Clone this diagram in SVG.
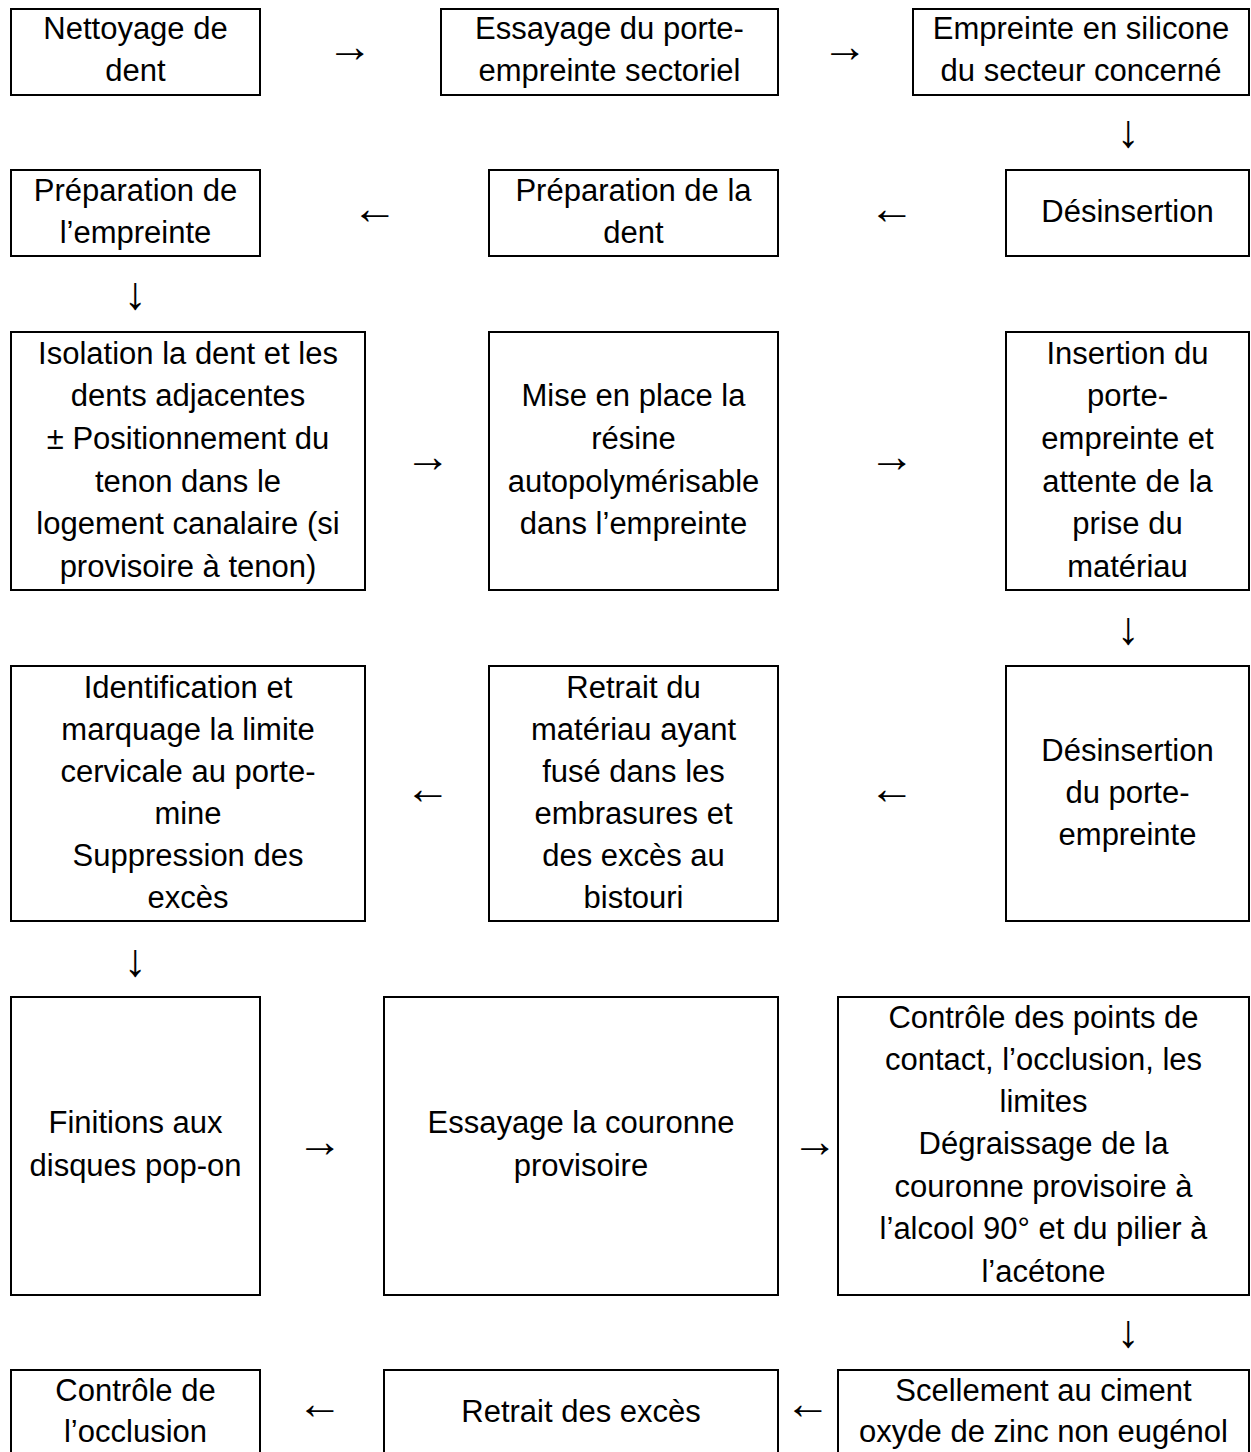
<svg xmlns="http://www.w3.org/2000/svg" width="1251" height="1452" viewBox="0 0 1251 1452">
<style>
rect.b{fill:#fff;stroke:#000;stroke-width:2}
text{font-family:"Liberation Sans",Arial,sans-serif;font-size:31px;fill:#000;text-anchor:middle}
text.a{font-size:46px}
</style>
<rect width="1251" height="1452" fill="#fff"/>
<g id="n1"><rect class="b" x="11" y="9" width="249" height="86"/><text x="135.5" y="39">Nettoyage de</text><text x="135.5" y="81">dent</text></g>
<g id="n2"><rect class="b" x="441" y="9" width="337" height="86"/><text x="609.5" y="39">Essayage du porte-</text><text x="609.5" y="81">empreinte sectoriel</text></g>
<g id="n3"><rect class="b" x="913" y="9" width="336" height="86"/><text x="1081" y="39">Empreinte en silicone</text><text x="1081" y="81">du secteur concerné</text></g>
<g id="n4"><rect class="b" x="1006" y="170" width="243" height="86"/><text x="1127.5" y="222">Désinsertion</text></g>
<g id="n5"><rect class="b" x="489" y="170" width="289" height="86"/><text x="633.5" y="201">Préparation de la</text><text x="633.5" y="243">dent</text></g>
<g id="n6"><rect class="b" x="11" y="170" width="249" height="86"/><text x="135.5" y="201">Préparation de</text><text x="135.5" y="243">l’empreinte</text></g>
<g id="n7"><rect class="b" x="11" y="332" width="354" height="258"/><text x="188" y="364">Isolation la dent et les</text><text x="188" y="406">dents adjacentes</text><text x="188" y="449">± Positionnement du</text><text x="188" y="492">tenon dans le</text><text x="188" y="534">logement canalaire (si</text><text x="188" y="577">provisoire à tenon)</text></g>
<g id="n8"><rect class="b" x="489" y="332" width="289" height="258"/><text x="633.5" y="406">Mise en place la</text><text x="633.5" y="449">résine</text><text x="633.5" y="492">autopolymérisable</text><text x="633.5" y="534">dans l’empreinte</text></g>
<g id="n9"><rect class="b" x="1006" y="332" width="243" height="258"/><text x="1127.5" y="364">Insertion du</text><text x="1127.5" y="406">porte-</text><text x="1127.5" y="449">empreinte et</text><text x="1127.5" y="492">attente de la</text><text x="1127.5" y="534">prise du</text><text x="1127.5" y="577">matériau</text></g>
<g id="n10"><rect class="b" x="1006" y="666" width="243" height="255"/><text x="1127.5" y="761">Désinsertion</text><text x="1127.5" y="803">du porte-</text><text x="1127.5" y="845">empreinte</text></g>
<g id="n11"><rect class="b" x="489" y="666" width="289" height="255"/><text x="633.5" y="698">Retrait du</text><text x="633.5" y="740">matériau ayant</text><text x="633.5" y="782">fusé dans les</text><text x="633.5" y="824">embrasures et</text><text x="633.5" y="866">des excès au</text><text x="633.5" y="908">bistouri</text></g>
<g id="n12"><rect class="b" x="11" y="666" width="354" height="255"/><text x="188" y="698">Identification et</text><text x="188" y="740">marquage la limite</text><text x="188" y="782">cervicale au porte-</text><text x="188" y="824">mine</text><text x="188" y="866">Suppression des</text><text x="188" y="908">excès</text></g>
<g id="n13"><rect class="b" x="11" y="997" width="249" height="298"/><text x="135.5" y="1133">Finitions aux</text><text x="135.5" y="1176">disques pop-on</text></g>
<g id="n14"><rect class="b" x="384" y="997" width="394" height="298"/><text x="581" y="1133">Essayage la couronne</text><text x="581" y="1176">provisoire</text></g>
<g id="n15"><rect class="b" x="838" y="997" width="411" height="298"/><text x="1043.5" y="1028">Contrôle des points de</text><text x="1043.5" y="1070">contact, l’occlusion, les</text><text x="1043.5" y="1112">limites</text><text x="1043.5" y="1154">Dégraissage de la</text><text x="1043.5" y="1197">couronne provisoire à</text><text x="1043.5" y="1239">l’alcool 90° et du pilier à</text><text x="1043.5" y="1282">l’acétone</text></g>
<g id="n16"><rect class="b" x="838" y="1370" width="411" height="100"/><text x="1043.5" y="1401">Scellement au ciment</text><text x="1043.5" y="1442">oxyde de zinc non eugénol</text></g>
<g id="n17"><rect class="b" x="384" y="1370" width="394" height="100"/><text x="581" y="1422">Retrait des excès</text></g>
<g id="n18"><rect class="b" x="11" y="1370" width="249" height="100"/><text x="135.5" y="1401">Contrôle de</text><text x="135.5" y="1442">l’occlusion</text></g>
<g id="connectors">
<text class="a" x="350" y="62">→</text>
<text class="a" x="845" y="62">→</text>
<text class="a" x="1128" y="147">↓</text>
<text class="a" x="892" y="224">←</text>
<text class="a" x="375" y="224">←</text>
<text class="a" x="135" y="309">↓</text>
<text class="a" x="428" y="472">→</text>
<text class="a" x="892" y="472">→</text>
<text class="a" x="1128" y="644">↓</text>
<text class="a" x="892" y="804">←</text>
<text class="a" x="428" y="804">←</text>
<text class="a" x="135" y="976">↓</text>
<text class="a" x="320" y="1157">→</text>
<text class="a" x="815" y="1157">→</text>
<text class="a" x="1128" y="1347">↓</text>
<text class="a" x="808" y="1419">←</text>
<text class="a" x="320" y="1419">←</text>
</g>
</svg>
